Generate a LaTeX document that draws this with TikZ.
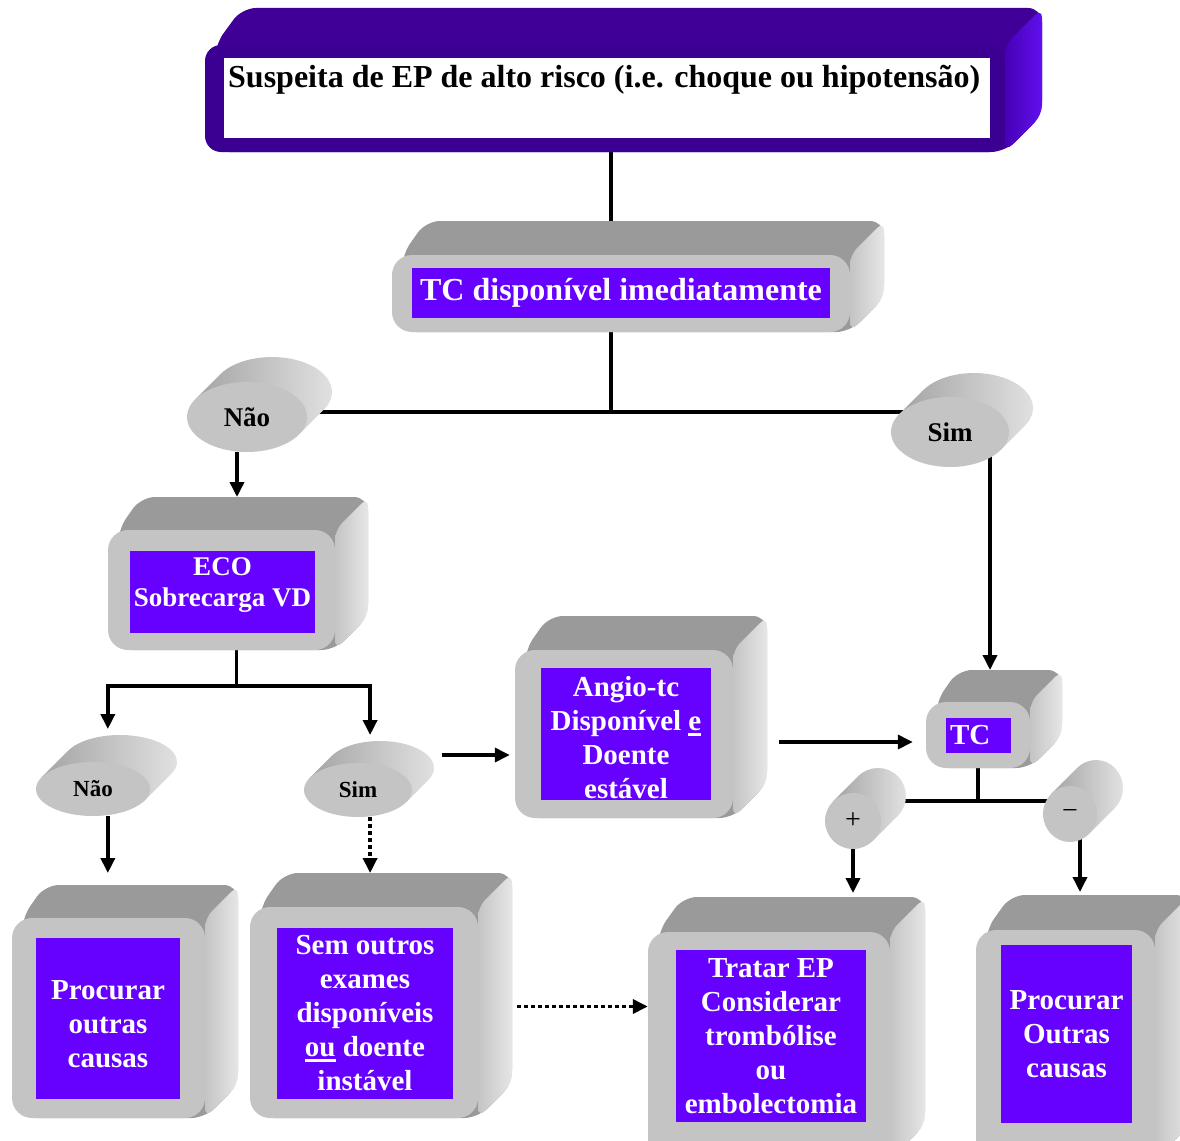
\documentclass[tikz,border=0pt]{standalone}
\usepackage{fontspec}
\setmainfont{Liberation Serif}
\usetikzlibrary{calc}
\usetikzlibrary{arrows.meta}
\usetikzlibrary{shapes.geometric}

\definecolor{lblviolet}{HTML}{6600FF}
\definecolor{deepviolet}{HTML}{3B0092}
\definecolor{topviolet}{HTML}{400098}
\definecolor{darkside}{HTML}{4800B4}
\definecolor{lightside}{HTML}{6010EE}
\definecolor{facegrey}{HTML}{C4C4C4}
\definecolor{topgrey}{HTML}{9A9A9A}
\definecolor{sidegreyA}{HTML}{C4C4C4}
\definecolor{sidegreyB}{HTML}{E6E6E6}
\definecolor{drumdark}{HTML}{A4A4A4}
\definecolor{drumlight}{HTML}{E4E4E4}

\pgfdeclarelayer{links}
\pgfsetlayers{links,main}

% extruded box: [palette]{name}{x1}{y1}{x2}{y2}{depth}
\newcommand{\slab}[7][grey]{%
  \fill[#1 top] ({#3+10},#6) -- ({#3+10},#4) -- ({#3+#7},{#4-#7}) -- ({#5+#7},{#4-#7}) -- ({#5+#7},{#6-#7}) -- (#5,#6) -- cycle;
  \shade[#1 side] (#5,#6) -- (#5,#4) -- ({#5+#7},{#4-#7}) -- ({#5+#7},{#6-#7}) -- cycle;
  \node[#1 face, minimum width={(#5-#3)*1pt}, minimum height={(#6-#4)*1pt}] (#2) at ({(#3+#5)/2},{(#4+#6)/2}) {};
  \coordinate (#2-back) at ({(#3+#5)/2+#7},{#4-#7});
}

% cylinder: [node opts]{name}{cx}{cy}{rx}{ry}{depth}{text}
\newcommand{\drum}[8][]{%
  \pgfmathsetmacro\drumang{atan(#6/#5)}
  \begin{scope}[shift={(#3,#4)}]
    \shade[drum side] (\drumang:#5 and #6) -- ++(#7,-#7)
      arc[start angle=\drumang, end angle=\drumang-180, x radius=#5, y radius=#6]
      -- (\drumang+180:#5 and #6) -- cycle;
  \end{scope}
  \node[drum face, minimum width={2*#5*1pt}, minimum height={2*#6*1pt}, #1] (#2) at (#3,#4) {#8};
  \coordinate (#2-top) at ({#3+0.55*#7},{#4-#7-#6});
}

\newcommand{\undl}[1]{\setbox0\hbox{#1}\rlap{\rule[-5pt]{\wd0}{3pt}}\box0\relax}

\begin{document}
\begin{tikzpicture}[x=1pt, y=-1pt, >={Triangle[length=15pt, width=14pt]}, line join=round]
\tikzstyle{lbl}=[fill=lblviolet, text=white, inner sep=0pt, align=center, font=\bfseries\fontsize{29}{34}\selectfont]
\tikzstyle{grey face}=[rectangle, rounded corners=20pt, fill=facegrey, inner sep=0pt]
\tikzstyle{grey top}=[fill=topgrey, rounded corners=14pt]
\tikzstyle{grey side}=[left color=sidegreyA, right color=sidegreyB, rounded corners=10pt]
\tikzstyle{violet face}=[rectangle, rounded corners=16pt, fill=deepviolet, inner sep=0pt]
\tikzstyle{violet top}=[fill=topviolet, rounded corners=14pt]
\tikzstyle{violet side}=[left color=darkside, right color=lightside, rounded corners=10pt]
\tikzstyle{drum face}=[ellipse, fill=facegrey, inner sep=0pt, font=\bfseries\fontsize{27}{30}\selectfont]
\tikzstyle{drum side}=[left color=drumdark, right color=drumlight]
\tikzstyle{link}=[line width=3.5pt]
\tikzstyle{arr}=[link, ->]
\tikzstyle{dotarr}=[arr, dash pattern=on 4pt off 3pt]

\useasboundingbox (0,0) rectangle (1180,1140);
\clip (0,0) rectangle (1180,1140);

% boxes
\slab[violet]{risco}{205}{45}{1005}{152}{37}
\node[fill=white, inner sep=0pt, minimum width=766pt, minimum height=80pt] (risco-lbl) at (607,98) {};
\node[anchor=base west, inner sep=0pt, font=\bfseries\fontsize{32}{36}\selectfont] (risco-txt) at (228,88)
  {Suspeita de EP de alto risco (i.e. choque ou hipotensão)};

\slab{tcimed}{392}{255}{850}{332}{34}
\node[lbl, font=\bfseries\fontsize{32}{36}\selectfont, minimum width=418pt, minimum height=50pt] (tcimed-lbl) at (621,293)
  {TC disponível imediatamente};

\slab{eco}{108}{530}{335}{650}{33}
\node[lbl, font=\bfseries\fontsize{27}{31}\selectfont, minimum width=185pt, minimum height=82pt, text depth=20pt] (eco-lbl) at (222.5,592)
  {ECO\\Sobrecarga VD};

\slab{angio}{515}{650}{733}{818}{34}
\node[lbl, minimum width=170pt, minimum height=132pt, text height=130pt] (angio-lbl) at (626,734)
  {Angio-tc\\Disponível \undl{e}\\Doente\\estável};

\slab{tc}{926}{702}{1030}{768}{32}
\node[lbl, minimum width=65pt, minimum height=35pt, text width=57pt, align=left] (tc-lbl) at (978.5,735.5) {TC};

\slab{outras}{12}{918}{205}{1118}{33}
\node[lbl, minimum width=144pt, minimum height=161pt, text height=99pt] (outras-lbl) at (108,1018.5)
  {Procurar\\outras\\causas};

\slab{semexam}{250}{907}{478}{1118}{34}
\node[lbl, minimum width=176pt, minimum height=171pt] (semexam-lbl) at (365,1013.5)
  {Sem outros\\exames\\disponíveis\\\undl{ou} doente\\instável};

\slab{tratar}{648}{932}{890}{1160}{35}
\node[lbl, minimum width=190pt, minimum height=172pt] (tratar-lbl) at (771,1036)
  {Tratar EP\\Considerar\\trombólise\\ou\\embolectomia};

\slab{outrasb}{976}{930}{1155}{1160}{35}
\node[lbl, minimum width=131pt, minimum height=178pt] (outrasb-lbl) at (1066.5,1034)
  {Procurar\\Outras\\causas};

% answers
\drum{naoa}{247}{417}{60}{35}{25}{Não}
\drum{sima}{950}{432}{59}{35}{24}{Sim}
\drum[font=\bfseries\fontsize{23}{26}\selectfont]{naob}{93}{789}{57}{27}{27}{Não}
\drum[font=\bfseries\fontsize{23}{26}\selectfont]{simb}{358}{790}{54}{27}{22}{Sim}
\drum[font=\fontsize{28}{30}\selectfont]{plus}{853}{821}{28}{28}{25}{+}
\drum[font=\fontsize{28}{30}\selectfont]{minus}{1070}{814}{27}{28}{26}{−}

% connectors
\begin{pgfonlayer}{links}
\draw[link] ([xshift=6pt]risco.south) -- ([xshift=6pt]risco.south |- tcimed-back);
\draw[link] ([xshift=-10pt]tcimed.south) -- ++(0,80) coordinate (split1);
\draw[link] (split1 -| naoa) -- (split1 -| sima);
\draw[arr] ([xshift=-10pt]naoa.south) -- ([xshift=-10pt]naoa.south |- eco-back);
\draw[arr] ([xshift=40pt]sima.center) -- ([xshift=40pt]sima.center |- tc-back);

\draw[link] ([xshift=15pt]eco.south) -- ++(0,36) coordinate (split2);
\draw[arr, shorten >=6pt] (split2) -| (naob-top);
\draw[arr, shorten >=6pt] (split2) -| (simb-top);
\draw[arr, shorten >=12pt] (naob-top |- naob.south) -- (naob-top |- outras-back);
\draw[dotarr] (simb-top |- simb.south) -- (simb-top |- semexam-back);

\coordinate (simout) at ([shift={(30,-35)}]simb.east);
\draw[arr, shorten >=5pt] (simout) -- (simout -| angio.west);
\coordinate (angout) at ([shift={(46,8)}]angio.east);
\draw[arr, shorten >=13pt] (angout) -- (angout -| tc.west);
\coordinate (semout) at ([shift={(39,-6)}]semexam.east);
\draw[dotarr] (semout) -- (semout -| tratar.west);

\draw[link] (tc.south) -- ++(0,33) coordinate (split3);
\draw[link] (split3 -| plus) -- (split3 -| minus);
\draw[arr, shorten >=4pt] (plus.south) -- (plus.south |- tratar-back);
\draw[arr, shorten >=3pt] ([xshift=10pt]minus.center) -- ([xshift=10pt]minus.center |- outrasb-back);
\end{pgfonlayer}
\end{tikzpicture}
\end{document}
